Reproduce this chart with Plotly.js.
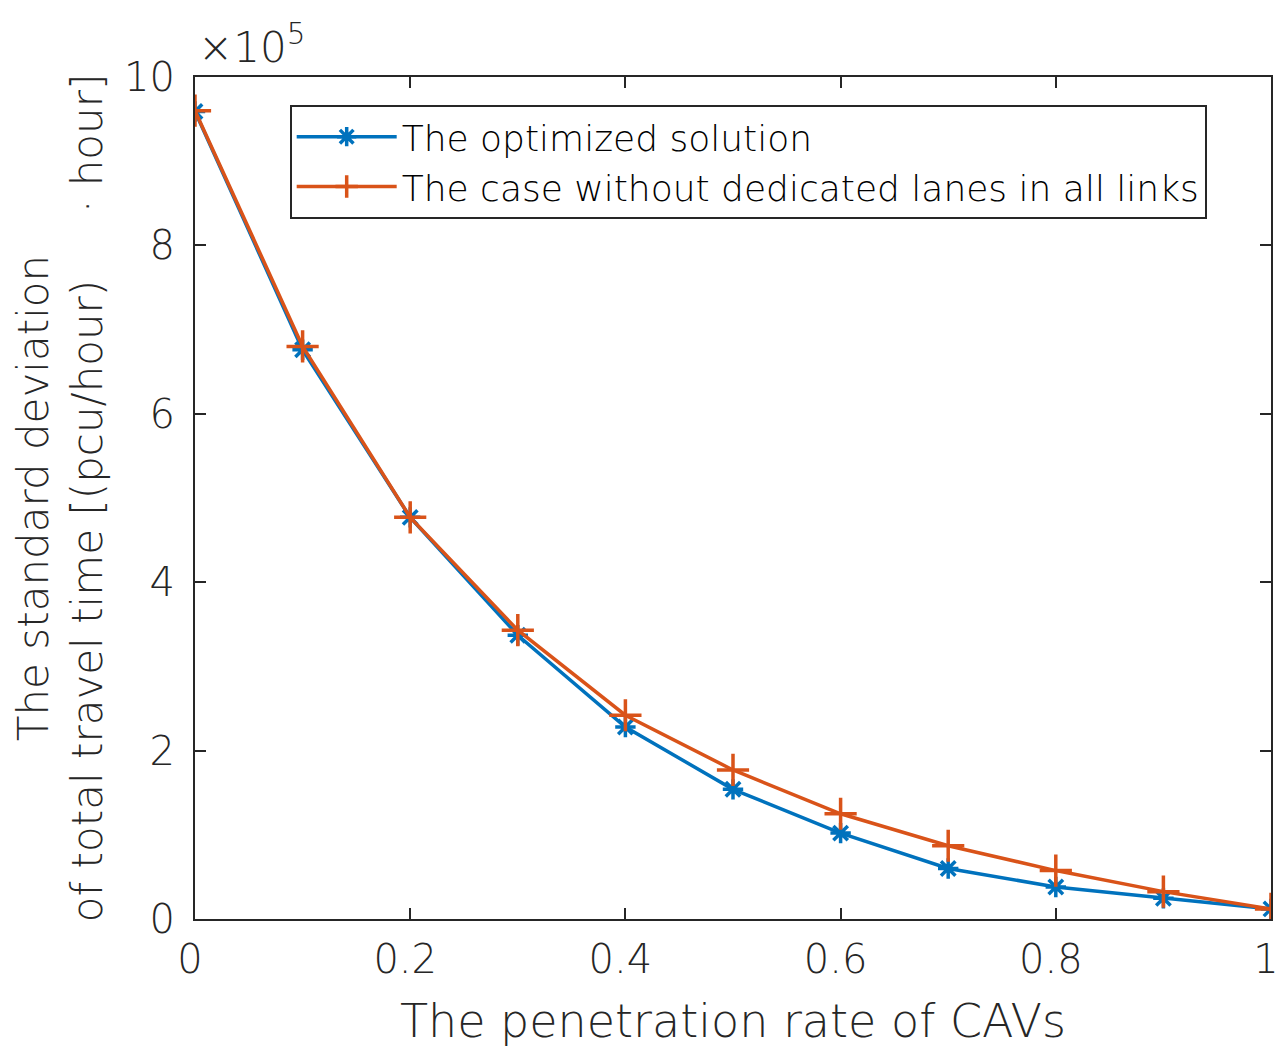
<!DOCTYPE html>
<html>
<head>
<meta charset="utf-8">
<script src="https://cdn.plot.ly/plotly-3.0.1.min.js"></script>
<style>html,body{margin:0;padding:0;background:#fff;}#chart{width:1281px;height:1050px;}</style>
</head>
<body>
<div id="chart"></div>
<script>
const penetration = [0, 0.1, 0.2, 0.3, 0.4, 0.5, 0.6, 0.7, 0.8, 0.9, 1.0];
const optimized = [9.59, 6.76, 4.77, 3.37, 2.28, 1.54, 1.02, 0.60, 0.38, 0.245, 0.12];
const noDedicated = [9.60, 6.80, 4.77, 3.43, 2.42, 1.77, 1.25, 0.87, 0.575, 0.325, 0.12];
const seriesNames = ["The optimized solution", "The case without dedicated lanes in all links"];
const xTicks = [0, 0.2, 0.4, 0.6, 0.8, 1];
const xTickText = ["0", "0.2", "0.4", "0.6", "0.8", "1"];
const yTicks = [0, 2, 4, 6, 8, 10];
const yTickText = ["0", "2", "4", "6", "8", "10"];

const FONT = "'DejaVu Sans', sans-serif";
const W = 200;
const traces = [
  {x: penetration, y: optimized, name: seriesNames[0], mode: "lines+markers",
   line: {color: "#0072BD", width: 3.5},
   marker: {symbol: "asterisk-open", size: 17, line: {color: "#0072BD", width: 3.5}}},
  {x: penetration, y: noDedicated, name: seriesNames[1], mode: "lines+markers",
   line: {color: "#D95319", width: 3.5},
   marker: {symbol: "cross-thin-open", size: 23, line: {color: "#D95319", width: 3.5}}}
];
const axisCommon = {
  showline: true, linecolor: "#262626", linewidth: 2, mirror: "ticks",
  ticks: "inside", ticklen: 11, tickwidth: 2, tickcolor: "#262626",
  showgrid: false, zeroline: false, ticklabeloverflow: "allow",
  tickfont: {family: FONT, size: 40, color: "#262626", weight: W}
};
const layout = {
  width: 1281, height: 1050,
  paper_bgcolor: "#fff", plot_bgcolor: "#fff",
  margin: {l: 195, r: 10, t: 77, b: 131},
  font: {family: FONT, color: "#262626", weight: W},
  showlegend: true,
  legend: {x: 0.088, y: 0.967, xanchor: "left", yanchor: "top",
    bgcolor: "#fff", bordercolor: "#262626", borderwidth: 2, itemwidth: 100,
    font: {family: FONT, size: 36, color: "#000", weight: W}, tracegroupgap: 0},
  xaxis: Object.assign({}, axisCommon, {
    range: [0, 1], tickvals: xTicks, ticktext: xTickText, ticklabelstandoff: 4, ticklabelshift: -5,
    title: {text: "The penetration rate of CAVs", font: {family: FONT, size: 46, color: "#262626", weight: W}, standoff: 24}
  }),
  yaxis: Object.assign({}, axisCommon, {
    range: [0, 10], tickvals: yTicks, ticktext: yTickText, ticklabelstandoff: 10,
    title: {text: "The standard deviation<br>of total travel time [(pcu/hour)     · hour]", font: {family: FONT, size: 42, color: "#262626", weight: W}, standoff: 8}
  }),
  annotations: [{
    xref: "paper", yref: "paper", x: 0, y: 1, xanchor: "left", yanchor: "bottom",
    text: "×10<sup>5</sup>", showarrow: false, xshift: 1, yshift: 3,
    font: {family: FONT, size: 42, color: "#262626", weight: W}
  }]
};
Plotly.newPlot("chart", traces, layout, {displayModeBar: false, staticPlot: true});
</script>
</body>
</html>
